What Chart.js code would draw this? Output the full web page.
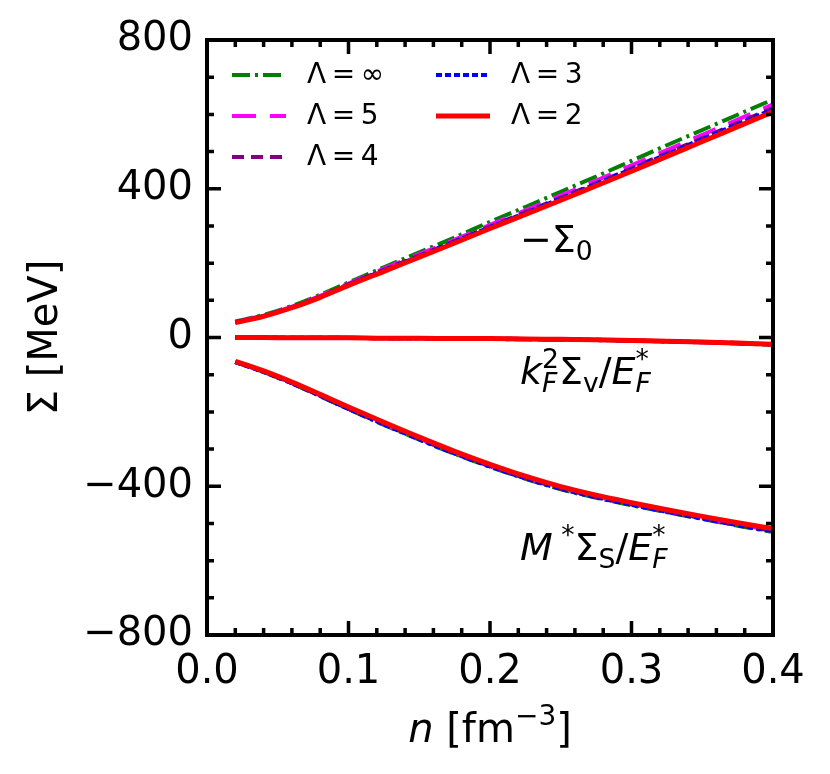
<!DOCTYPE html>
<html lang="en">
<head>
<meta charset="UTF-8">
<title>Self-energies vs density</title>
<script src="https://cdn.jsdelivr.net/npm/chart.js"></script>
<style>
  body { margin: 0; background: #fff; }
  #wrap { width: 830px; height: 774px; }
</style>
</head>
<body>
<div id="wrap"><canvas id="myChart" width="830" height="774"></canvas></div>
<script>
// density grid [fm^-3]
const nVals = [0.02, 0.04, 0.06, 0.08, 0.1, 0.125, 0.15, 0.175, 0.2, 0.225, 0.25, 0.275, 0.3, 0.325, 0.35, 0.375, 0.4];

// -Sigma_0
const sig0_inf = [43, 61, 85, 115, 148, 189, 229, 269, 311, 351, 392, 433, 475, 517, 558, 599, 640];
const sig0_5   = [42, 59, 83, 112, 145, 185, 224, 263, 303, 342, 382, 422, 463, 504, 545, 586, 627];
const sig0_4   = [41, 58, 81, 110, 143, 182, 220, 259, 298, 337, 376, 415, 455, 496, 536, 577, 617];
const sig0_3   = [41, 58, 81, 109, 142, 181, 219, 258, 297, 335, 374, 413, 453, 493, 534, 574, 614];
const sig0_2   = [40, 57, 80, 108, 140, 178, 216, 254, 293, 331, 369, 408, 447, 487, 527, 567, 607];

// kF^2 Sigma_v / EF*
const sigV_inf = [0, 0, -1, -1, -1, -2, -2, -3, -4, -5, -6, -7, -9, -11, -13, -16, -20];
const sigV_5   = [0, 0, -1, -1, -1, -2, -2, -3, -4, -5, -6, -7, -9, -11, -13, -16, -19];
const sigV_4   = [0, 0, -1, -1, -1, -2, -2, -3, -3, -4, -5, -7, -8, -10, -13, -15, -19];
const sigV_3   = [0, 0, -1, -1, -1, -2, -2, -3, -3, -4, -5, -6, -8, -10, -12, -15, -18];
const sigV_2   = [0, 0, -1, -1, -1, -2, -2, -3, -3, -4, -5, -6, -8, -10, -12, -15, -18];

// M* Sigma_S / EF*
const sigS_inf = [-66, -93, -124, -158, -193, -235, -275, -313, -348, -380, -408, -431, -451, -470, -488, -506, -523];
const sigS_5   = [-65, -92, -122, -156, -191, -232, -272, -310, -345, -377, -405, -428, -448, -467, -485, -503, -519];
const sigS_4   = [-66, -92, -123, -157, -192, -233, -273, -311, -346, -378, -406, -429, -449, -468, -486, -504, -520];
const sigS_3   = [-66, -93, -123, -157, -192, -234, -274, -312, -347, -379, -407, -430, -450, -469, -487, -505, -521];
const sigS_2   = [-64, -90, -120, -153, -187, -228, -268, -306, -341, -373, -401, -424, -444, -463, -481, -498, -514];

const lambdaNames = ['Λ = ∞', 'Λ = 5', 'Λ = 4', 'Λ = 3', 'Λ = 2'];
const lambdaColors = ['#008000', '#ff00ff', '#800080', '#0000ff', '#ff0000'];
const lambdaDash = [[18, 5, 3, 5], [24, 14], [12, 7], [6, 3], []];
const lambdaWidth = [4, 4, 4, 4, 5];
const curves = [
  [sig0_inf, sigV_inf, sigS_inf],
  [sig0_5, sigV_5, sigS_5],
  [sig0_4, sigV_4, sigS_4],
  [sig0_3, sigV_3, sigS_3],
  [sig0_2, sigV_2, sigS_2]
];

const FONT = "'DejaVu Sans', 'Liberation Sans', sans-serif";

// build datasets, one per curve; later Lambda drawn on top (Λ=2 last)
const datasets = [];
curves.forEach((set, i) => {
  set.forEach(vals => {
    datasets.push({
      label: lambdaNames[i],
      data: nVals.map((n, k) => ({ x: n, y: vals[k] })),
      borderColor: lambdaColors[i],
      borderWidth: lambdaWidth[i],
      borderDash: lambdaDash[i],
      pointRadius: 0,
      fill: false,
      order: curves.length - 1 - i,
      cubicInterpolationMode: 'monotone'
    });
  });
});

// write mixed text: pieces {t, it, sub, sup}
function drawMath(ctx, x, y, pieces, size) {
  let cx = x, lastSubW = 0, lastSubX = 0;
  pieces.forEach(p => {
    const small = p.sub || p.sup;
    const fs = small ? size * 0.7 : size;
    ctx.font = (p.it ? 'italic ' : '') + fs + 'px ' + FONT;
    let px = cx, py = y;
    if (p.sub) { py = y + size * 0.2; }
    if (p.sup) { py = y - size * 0.42; }
    if (p.sup && p.stack) { px = lastSubX; }
    ctx.fillText(p.t, px, py);
    const w = ctx.measureText(p.t).width;
    if (p.sub) { lastSubX = cx; lastSubW = w; cx += w; }
    else if (p.sup && p.stack) { cx = lastSubX + Math.max(w, lastSubW); }
    else { cx += w; }
  });
}

const decorPlugin = {
  id: 'decor',
  afterDraw(chart) {
    const ctx = chart.ctx;
    const a = chart.chartArea;
    const xs = chart.scales.x, ys = chart.scales.y;
    ctx.save();
    ctx.strokeStyle = '#000';
    ctx.lineWidth = 3.5;
    ctx.setLineDash([]);
    // inward ticks on all four sides
    ctx.beginPath();
    for (let i = 0; i <= 20; i++) {
      const v = i * 0.02;
      const px = xs.getPixelForValue(v);
      const len = (i % 5 === 0) ? 14 : 7;
      ctx.moveTo(px, a.bottom); ctx.lineTo(px, a.bottom - len);
      ctx.moveTo(px, a.top); ctx.lineTo(px, a.top + len);
    }
    for (let v = -800; v <= 800; v += 100) {
      const py = ys.getPixelForValue(v);
      const len = (v % 400 === 0) ? 14 : 7;
      ctx.moveTo(a.left, py); ctx.lineTo(a.left + len, py);
      ctx.moveTo(a.right, py); ctx.lineTo(a.right - len, py);
    }
    ctx.stroke();
    ctx.lineWidth = 4;
    ctx.strokeRect(a.left, a.top, a.right - a.left, a.bottom - a.top);

    // legend, two columns
    const pos = [[232, 75], [232, 116], [232, 157], [436, 75], [436, 116]];
    ctx.textBaseline = 'middle';
    ctx.fillStyle = '#000';
    lambdaNames.forEach((name, i) => {
      const [lx, ly] = pos[i];
      ctx.beginPath();
      ctx.strokeStyle = lambdaColors[i];
      ctx.lineWidth = lambdaWidth[i];
      ctx.setLineDash(lambdaDash[i]);
      ctx.moveTo(lx, ly); ctx.lineTo(lx + 54, ly);
      ctx.stroke();
      ctx.setLineDash([]);
      ctx.font = '28px ' + FONT;
      ctx.fillText(name.replace(/ /g, '\u2009'), lx + 75, ly + 1);
    });

    // curve annotations
    ctx.textBaseline = 'alphabetic';
    drawMath(ctx, 520, 252, [{ t: '−Σ' }, { t: '0', sub: 1 }], 38);
    drawMath(ctx, 520, 384, [
      { t: 'k', it: 1 }, { t: 'F', it: 1, sub: 1 }, { t: '2', sup: 1, stack: 1 },
      { t: 'Σ' }, { t: 'v', sub: 1 }, { t: '/' },
      { t: 'E', it: 1 }, { t: 'F', it: 1, sub: 1 }, { t: '*', sup: 1, stack: 1 }
    ], 38);
    drawMath(ctx, 520, 560, [
      { t: 'M', it: 1 }, { t: ' *', sup: 1 }, { t: 'Σ' }, { t: 'S', sub: 1 }, { t: '/' },
      { t: 'E', it: 1 }, { t: 'F', it: 1, sub: 1 }, { t: '*', sup: 1, stack: 1 }
    ], 38);

    // axis titles
    ctx.font = 'italic 40px ' + FONT;
    const nW = ctx.measureText('n ').width;
    ctx.font = '40px ' + FONT;
    const w1 = ctx.measureText('[fm').width;
    ctx.font = '28px ' + FONT;
    const w2 = ctx.measureText('−3').width;
    ctx.font = '40px ' + FONT;
    const w3 = ctx.measureText(']').width;
    const tx = (a.left + a.right) / 2 - (nW + w1 + w2 + w3) / 2;
    drawMath(ctx, tx, 742, [
      { t: 'n ', it: 1 }, { t: '[fm' }, { t: '−3', sup: 1 }, { t: ']' }
    ], 40);

    ctx.translate(57, (a.top + a.bottom) / 2);
    ctx.rotate(-Math.PI / 2);
    ctx.textAlign = 'center';
    ctx.font = '40px ' + FONT;
    ctx.fillText('Σ [MeV]', 0, 0);
    ctx.restore();
  }
};

const ctx = document.getElementById('myChart').getContext('2d');
const myChart = new Chart(ctx, {
  type: 'line',
  data: { datasets: datasets },
  options: {
    responsive: false,
    animation: false,
    layout: { padding: { left: 0, top: 40, right: 57, bottom: 0 } },
    plugins: { legend: { display: false }, tooltip: { enabled: false } },
    scales: {
      x: {
        type: 'linear', min: 0, max: 0.4,
        grid: { display: false, drawTicks: false, tickLength: 0 },
        border: { display: false },
        ticks: {
          stepSize: 0.1, padding: 14, color: '#000',
          font: { family: FONT, size: 40 },
          maxRotation: 0,
          callback: v => v.toFixed(1)
        },
        afterFit: s => { s.height = 139; }
      },
      y: {
        type: 'linear', min: -800, max: 800,
        grid: { display: false, drawTicks: false, tickLength: 0 },
        border: { display: false },
        ticks: {
          stepSize: 400, padding: 14, color: '#000',
          font: { family: FONT, size: 40 },
          callback: v => (v < 0 ? '−' + Math.abs(v) : String(v))
        },
        afterFit: s => { s.width = 207; }
      }
    }
  },
  plugins: [decorPlugin]
});
</script>
</body>
</html>
